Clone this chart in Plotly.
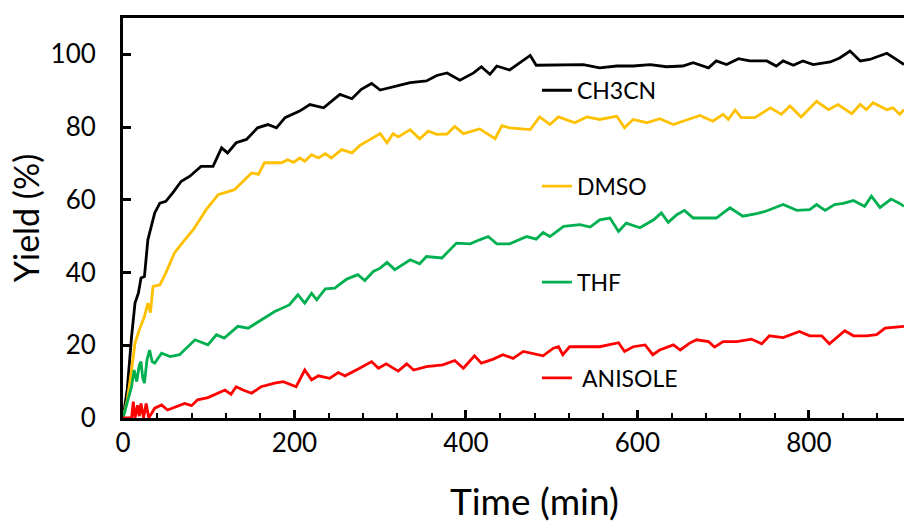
import plotly.graph_objects as go

# ---- data (time in min, yield in %) ----
t_ch3cn = [0, 5, 10, 14, 18, 21, 25, 29, 33, 37, 43, 50, 58, 68, 78, 91, 105, 115, 122, 132,
           144, 157, 169, 179, 189, 206, 218, 234, 253, 267, 278, 290, 300, 315, 335, 354, 366,
           378, 393, 409, 418, 428, 436, 451, 475, 482, 498, 517, 537, 556, 576, 595, 615, 634,
           653, 665, 683, 692, 704, 718, 731, 751, 762, 770, 782, 793, 805, 825, 836, 848, 860,
           871, 891, 902, 911]
y_ch3cn = [0, 8, 22.4, 31.6, 34.4, 38.5, 38.9, 49, 52.7, 56.4, 59.1, 59.6, 61.9, 65.1, 66.5, 69.2,
           69.2, 74.3, 72.9, 75.7, 76.6, 79.8, 80.7, 79.8, 82.6, 84.4, 86.2, 85.3, 89, 87.8, 90.4,
           92, 90.2, 91.1, 92.2, 92.7, 94.2, 94.9, 92.9, 94.9, 96.6, 94.5, 96.8, 95.7, 99.7, 97,
           97, 97.2, 97.2, 96.3, 96.8, 96.8, 97.2, 96.6, 96.8, 97.7, 96.3, 98.2, 97.2, 98.8, 98.2,
           98.2, 96.8, 98.2, 97, 98.2, 97.2, 97.9, 99, 100.9, 98.2, 98.6, 100.3, 98.6, 97.2]

t_dmso = [0, 5, 10, 14, 19, 25, 29, 32, 35, 43, 50, 60, 72, 82, 97, 111, 130, 138, 150, 158, 165,
          185, 192, 199, 206, 212, 220, 228, 236, 243, 255, 267, 276, 300, 308, 315, 321, 335, 346,
          356, 366, 378, 387, 397, 416, 434, 442, 451, 475, 486, 498, 508, 527, 541, 556, 576, 585,
          595, 611, 626, 642, 653, 673, 688, 700, 706, 714, 721, 737, 755, 768, 778, 791, 809, 823,
          834, 850, 860, 867, 875, 891, 898, 906, 911]
y_dmso = [0, 5, 13.2, 20.6, 24.2, 27.9, 31.6, 29, 36.2, 36.6, 39.9, 45.4, 49, 51.8, 57.3, 61.4,
          62.8, 64.7, 67.4, 67, 70.2, 70.2, 71, 70.3, 71.5, 70.6, 72.4, 71.5, 72.7, 71.5, 73.8, 72.9,
          74.9, 78.2, 75.7, 78.2, 77.3, 79.3, 76.8, 78.9, 78, 78.1, 80.2, 78.2, 79.5, 76.8, 80.4,
          79.8, 79.3, 82.8, 80.7, 82.8, 81.2, 82.8, 82.1, 83, 79.8, 82.1, 81.2, 82.3, 80.7, 81.6,
          83.2, 81.6, 83.5, 82.1, 84.7, 82.6, 82.6, 85.3, 83.5, 85.8, 82.8, 87.1, 84.8, 86.2, 83.7,
          86.2, 84.8, 86.7, 84.8, 85.3, 83.5, 84.8]

t_thf = [0, 5, 10, 13, 16, 19, 21, 23, 25, 28, 31, 34, 37, 45, 55, 66, 84, 99, 109, 118, 134, 146,
         161, 177, 194, 204, 212, 220, 226, 236, 247, 261, 274, 282, 292, 300, 308, 317, 335, 346,
         354, 372, 389, 405, 416, 426, 436, 451, 471, 482, 490, 498, 514, 533, 545, 556, 568, 578,
         587, 603, 619, 628, 636, 646, 655, 665, 673, 692, 708, 723, 739, 749, 770, 786, 801, 809,
         819, 830, 840, 852, 865, 873, 883, 896, 906, 911]
y_thf = [0, 4, 8.6, 13.2, 10, 14.5, 15.5, 11, 9.6, 16, 18.7, 15.5, 15.1, 17.8, 16.9, 17.4, 21.5,
         20.1, 22.9, 22, 25.2, 24.7, 27, 29.3, 31.1, 33.9, 31.6, 34.3, 32.5, 35.5, 35.7, 38.2, 39.4,
         37.8, 40.3, 41.2, 42.8, 40.8, 43.5, 42.4, 44.4, 44, 48.1, 47.9, 49, 49.9, 47.9, 47.9, 49.9,
         49.2, 51, 49.9, 52.7, 53.2, 52.5, 54.5, 55, 51.3, 53.6, 52.3, 54.5, 56.4, 53.8, 55.9, 57.1,
         55, 55, 55, 57.8, 55.5, 56.2, 56.8, 58.7, 57.1, 57.3, 58.7, 57.1, 58.7, 59, 59.8, 58.2, 61,
         57.9, 60.2, 59, 58.2]

t_anisole = [0, 10, 12, 14, 17, 19, 21, 24, 27, 30, 37, 45, 52, 62, 72, 80, 87, 99, 111, 119, 126,
             132, 140, 150, 161, 177, 187, 202, 212, 220, 228, 241, 251, 259, 276, 290, 298, 307,
             321, 331, 339, 354, 373, 387, 397, 410, 418, 432, 443, 455, 467, 490, 502, 508, 513,
             521, 556, 578, 585, 595, 609, 618, 626, 642, 650, 661, 669, 683, 690, 700, 716, 733,
             745, 754, 770, 789, 801, 815, 824, 842, 852, 867, 879, 889, 911]
y_anisole = [0, 0, 4.5, 0, 3.5, 0.5, 4, 0, 4, 0, 2.7, 3.6, 2.2, 3.1, 4, 3.4, 5, 5.6, 6.8, 7.7, 6.5,
             8.6, 7.7, 6.8, 8.6, 9.6, 10, 8.6, 13.2, 10.5, 11.6, 10.9, 12.5, 11.6, 13.7, 15.5, 13.7,
             14.9, 12.9, 14.9, 13.2, 14.1, 14.6, 15.8, 13.7, 17.1, 15.1, 16.2, 17.4, 16.4, 18.3,
             17.1, 19.2, 19.6, 17.4, 19.6, 19.6, 20.7, 18.3, 19.6, 20.1, 17.4, 18.7, 20.1, 18.7,
             20.6, 21.5, 21, 19.5, 21, 21, 21.7, 20.4, 22.6, 22.1, 23.8, 22.6, 22.6, 20.4, 24, 22.6,
             22.6, 22.9, 24.7, 25.2]

series_names = ["CH3CN", "DMSO", "THF", "\u00a0ANISOLE"]
series_colors = ["#000000", "#FFC000", "#00B050", "#FF0000"]
series_t = [t_ch3cn, t_dmso, t_thf, t_anisole]
series_y = [y_ch3cn, y_dmso, y_thf, y_anisole]

x_tick_vals = [0, 200, 400, 600, 800]
y_tick_vals = [0, 20, 40, 60, 80, 100]
x_title = "Time (min)"
y_title = "Yield (%)"

FONT = "Lato"

fig = go.Figure()
for i, (name, col, tx, ty) in enumerate(zip(series_names, series_colors, series_t, series_y)):
    fig.add_trace(go.Scatter(
        x=tx, y=ty, mode="lines", name=name, legendgroup=f"g{i}",
        line=dict(color=col, width=2.8), hoverinfo="skip",
    ))

# x-axis title (the reference's plot area continues past the cropped right edge,
# so its title sits right of the visible centre)
fig.add_annotation(
    text=x_title, xref="paper", yref="paper", x=0.527, y=-0.205,
    xanchor="center", yanchor="middle", showarrow=False,
    font=dict(family=FONT, size=37, color="black"),
)

fig.update_layout(
    width=904, height=523,
    margin=dict(l=123, r=0, t=18, b=105, autoexpand=False),
    paper_bgcolor="white", plot_bgcolor="white",
    font=dict(family=FONT, color="black", size=25),
    showlegend=True,
    legend=dict(
        x=0.530, y=0.873, xanchor="left", yanchor="top",
        bgcolor="rgba(0,0,0,0)", font=dict(family=FONT, size=23, color="black"),
        tracegroupgap=63, traceorder="grouped", itemwidth=30,
    ),
    xaxis=dict(
        range=[0, 911], tickvals=x_tick_vals, ticks="inside", ticklen=8, tickwidth=2.5,
        tickcolor="black", showline=True, linecolor="black", linewidth=3, mirror=True,
        showgrid=False, zeroline=False, automargin=False,
        minor=dict(dtick=40, ticks="inside", ticklen=5, tickwidth=2, tickcolor="black", showgrid=False),
        tickfont=dict(family=FONT, size=26, color="black"),
    ),
    yaxis=dict(
        range=[0, 110], tickvals=y_tick_vals, ticks="inside", ticklen=8, tickwidth=2.5,
        tickcolor="black", showline=True, linecolor="black", linewidth=3, mirror=False,
        showgrid=False, zeroline=False, ticklabelstandoff=19, automargin=False,
        tickfont=dict(family=FONT, size=26, color="black"),
        title=dict(text=y_title, font=dict(family=FONT, size=34, color="black"), standoff=1),
    ),
)

fig.write_html(
    "out.html",
    config={"displayModeBar": False},
    post_script="document.body.style.margin='0';document.body.style.overflow='hidden';",
)
